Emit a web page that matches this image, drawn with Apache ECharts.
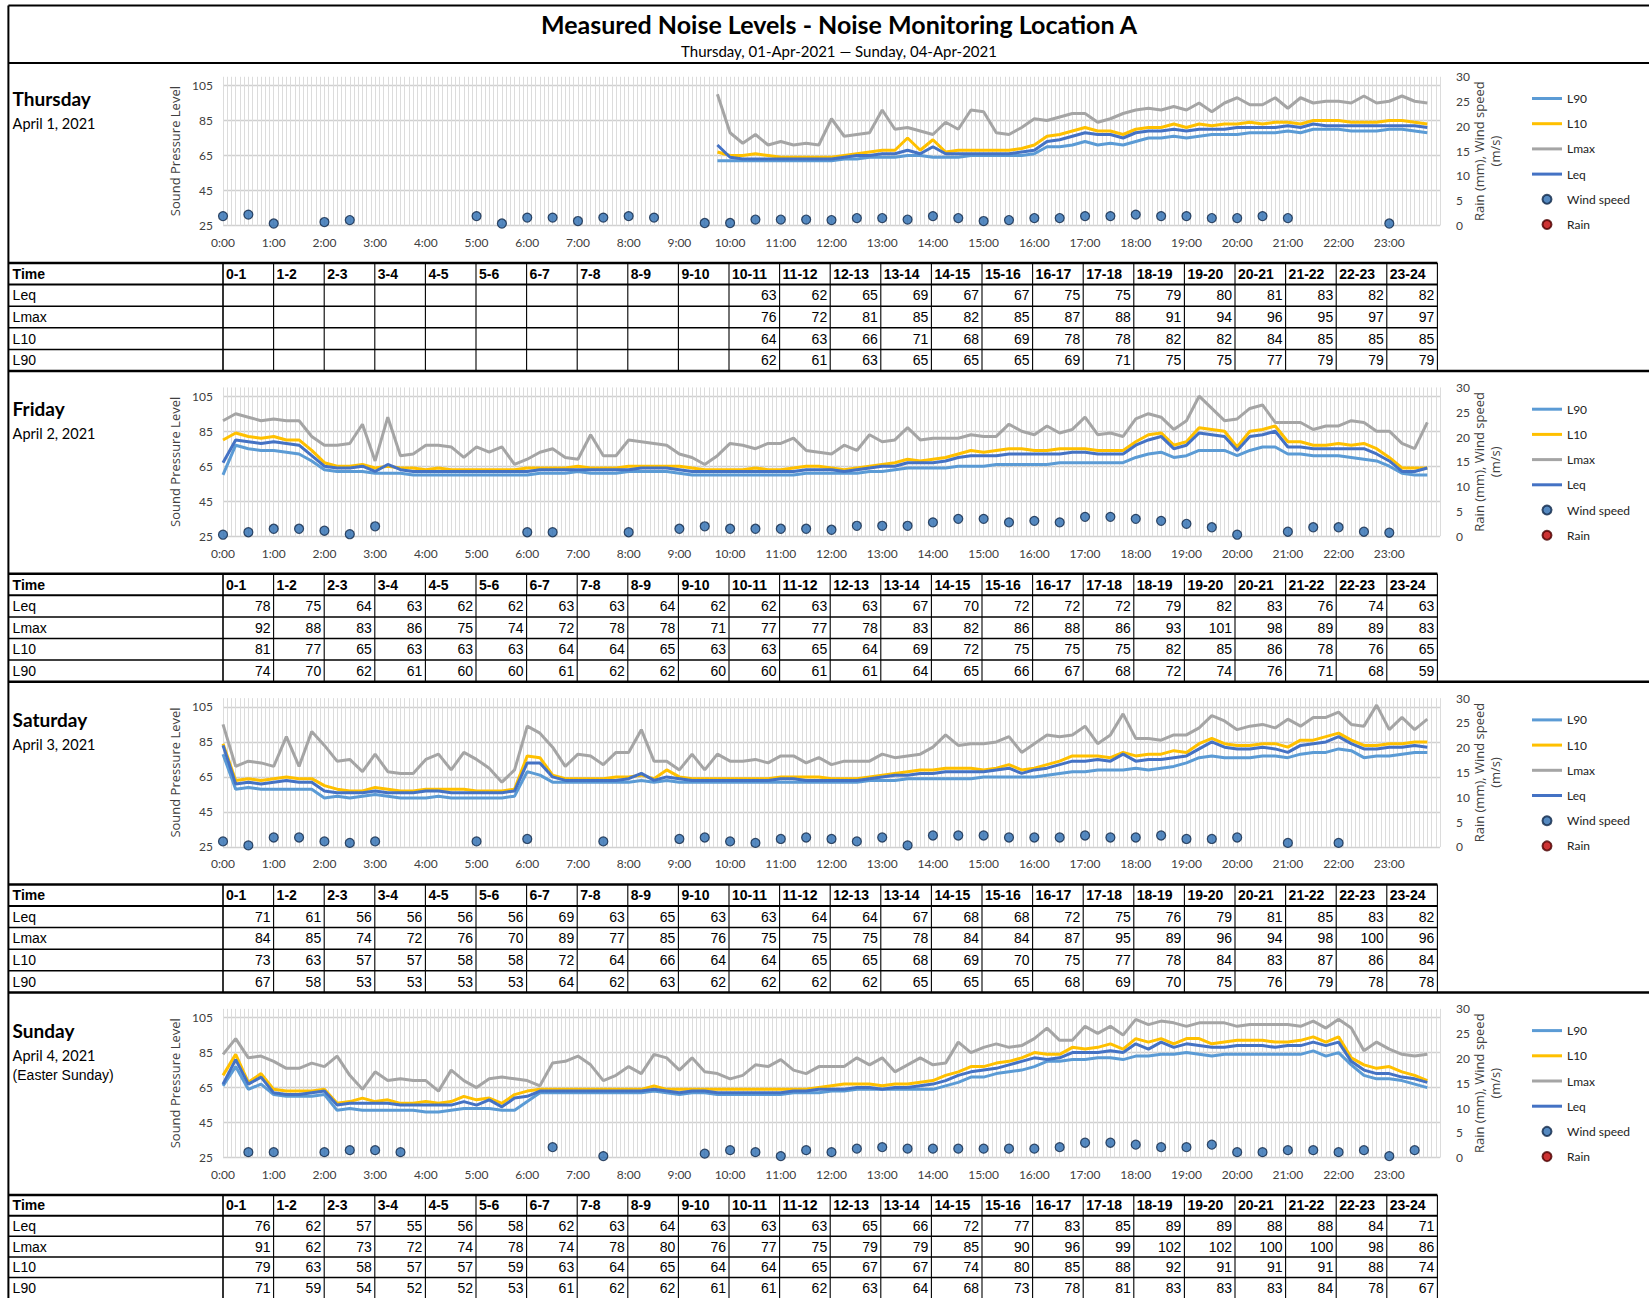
<!DOCTYPE html>
<html><head><meta charset="utf-8">
<script src="https://cdn.jsdelivr.net/npm/echarts@6/dist/echarts.min.js"></script>
<style>html,body{margin:0;padding:0;background:#fff;}#c{width:1649px;height:1298px;}</style>
</head><body><div id="c"></div>
<script>
const N = null;
const dayNames = ['Thursday','Friday','Saturday','Sunday'];
const dayDates = ['April 1, 2021','April 2, 2021','April 3, 2021','April 4, 2021'];
const dayNotes = ['','','','(Easter Sunday)'];
const hourLabels = ['0:00','1:00','2:00','3:00','4:00','5:00','6:00','7:00','8:00','9:00','10:00','11:00','12:00','13:00','14:00','15:00','16:00','17:00','18:00','19:00','20:00','21:00','22:00','23:00'];
const periodLabels = ['0-1','1-2','2-3','3-4','4-5','5-6','6-7','7-8','8-9','9-10','10-11','11-12','12-13','13-14','14-15','15-16','16-17','17-18','18-19','19-20','20-21','21-22','22-23','23-24'];
const splTicks = [25,45,65,85,105];
const legendNames = ['L90','L10','Lmax','Leq','Wind speed','Rain'];
const rowNames = ['Leq','Lmax','L10','L90'];

// 15-minute values, 0:00 .. 23:45
const thuLeq = [N,N,N,N, N,N,N,N, N,N,N,N, N,N,N,N, N,N,N,N, N,N,N,N, N,N,N,N, N,N,N,N, N,N,N,N, N,N,N,71,
 64,63,63,63, 63,63,63,63, 63,64,65,65, 66,66,68,66, 70,66,66,66, 66,66,66,67, 68,73,74,76, 78,77,77,75,
 78,79,79,80, 79,80,80,80, 81,81,81,81, 82,81,83,82, 82,82,82,82, 82,82,82,81];
const thuLmax = [N,N,N,N, N,N,N,N, N,N,N,N, N,N,N,N, N,N,N,N, N,N,N,N, N,N,N,N, N,N,N,N, N,N,N,N, N,N,N,100,
 78,72,77,71, 73,71,72,71, 86,76,77,78, 91,80,81,79, 77,84,80,91, 90,78,77,81, 86,85,87,89, 89,84,86,89,
 91,92,91,93, 91,95,90,95, 98,94,94,98, 92,98,95,96, 96,95,99,95, 96,99,96,95];
const thuL10 = [N,N,N,N, N,N,N,N, N,N,N,N, N,N,N,N, N,N,N,N, N,N,N,N, N,N,N,N, N,N,N,N, N,N,N,N, N,N,N,67,
 65,65,66,65, 64,64,64,64, 64,65,66,67, 68,68,75,68, 74,67,68,68, 68,68,68,69, 71,76,77,79, 81,79,79,77,
 80,81,81,83, 81,83,82,83, 83,84,83,84, 84,83,85,85, 85,84,84,84, 85,85,84,83];
const thuL90 = [N,N,N,N, N,N,N,N, N,N,N,N, N,N,N,N, N,N,N,N, N,N,N,N, N,N,N,N, N,N,N,N, N,N,N,N, N,N,N,62,
 62,62,62,62, 62,62,62,62, 62,63,63,64, 64,64,65,65, 64,64,64,65, 65,65,65,65, 66,70,70,71, 73,71,72,71,
 73,75,75,76, 75,76,77,77, 77,78,78,78, 79,78,80,80, 80,79,79,79, 80,80,79,78];

const friLeq = [67,80,79,78, 79,78,77,71, 65,64,64,65, 62,66,63,62, 62,62,62,62, 62,62,62,62, 62,63,63,63, 63,63,63,63,
 63,64,64,64, 63,62,62,62, 62,62,62,62, 62,62,63,63, 63,62,63,64, 65,65,67,67, 67,68,70,71, 71,71,72,72,
 72,72,72,73, 73,72,72,72, 77,80,82,75, 77,84,83,82, 74,82,83,85, 76,76,75,75, 75,75,75,72, 68,62,62,64];
const friLmax = [91,95,93,91, 92,91,91,82, 77,77,78,89, 68,93,71,72, 77,77,76,70, 76,73,76,66, 69,73,75,70, 69,83,71,71,
 80,79,78,77, 72,70,66,71, 78,77,75,78, 78,81,74,73, 72,77,74,83, 79,80,87,80, 81,81,81,83, 82,82,89,85,
 83,88,84,86, 93,83,84,82, 92,95,93,86, 91,105,98,91, 92,98,100,90, 90,90,86,88, 88,91,90,85, 85,78,75,90];
const friL10 = [80,84,82,81, 82,80,80,74, 67,65,65,66, 64,65,64,64, 63,64,63,63, 63,63,63,63, 64,64,64,64, 65,64,64,64,
 65,65,65,65, 65,64,63,63, 63,63,64,63, 63,64,65,65, 64,63,64,65, 66,67,69,68, 69,70,72,74, 73,74,75,75,
 74,74,75,75, 75,74,74,74, 79,83,84,77, 79,87,86,85, 76,85,86,88, 79,79,77,77, 78,77,78,75, 70,64,64,64];
const friL90 = [60,77,75,74, 74,73,72,68, 63,62,62,62, 61,61,61,60, 60,60,60,60, 60,60,60,60, 60,61,61,61, 62,61,61,61,
 62,62,62,62, 61,60,60,60, 60,60,60,60, 60,60,61,61, 61,61,61,62, 62,63,64,64, 64,64,65,65, 65,66,66,66,
 66,66,67,67, 67,67,67,67, 70,72,73,70, 71,74,74,74, 71,74,76,76, 72,72,71,71, 71,70,69,68, 65,61,60,60];

const satLeq = [83,61,62,61, 62,63,62,62, 57,56,56,56, 57,56,56,56, 57,57,56,56, 56,56,56,57, 73,73,65,63, 63,63,63,63,
 64,67,63,65, 64,63,63,63, 63,63,63,63, 64,64,63,63, 63,63,63,64, 65,66,66,67, 67,68,68,68, 68,69,70,67,
 69,70,72,74, 74,75,74,78, 74,75,75,76, 77,81,85,82, 81,81,82,81, 79,83,84,85, 88,84,81,81, 82,82,83,82];
const satLmax = [95,71,74,73, 71,88,71,91, 83,74,75,68, 78,68,67,67, 75,78,69,79, 75,70,62,69, 94,90,82,71, 78,77,72,79,
 79,92,74,74, 69,78,69,78, 74,74,75,73, 77,77,73,76, 72,74,74,74, 78,76,77,78, 82,89,83,84, 84,85,88,79,
 84,89,88,89, 94,84,89,101, 87,87,86,89, 89,93,100,97, 92,94,95,93, 98,94,99,99, 102,95,94,106, 92,99,92,98];
const satL10 = [84,63,64,63, 64,65,64,64, 60,58,57,57, 59,58,57,57, 58,58,58,58, 57,57,57,58, 77,76,66,64, 64,64,64,65,
 65,66,64,69, 65,64,64,64, 64,64,64,64, 65,65,65,65, 64,64,64,65, 66,67,68,69, 69,70,70,70, 69,70,72,69,
 70,72,74,77, 77,77,76,79, 77,78,78,80, 79,84,87,84, 83,83,84,84, 82,86,86,88, 90,86,83,83, 84,84,85,85];
const satL90 = [78,58,59,58, 58,58,58,58, 53,54,53,54, 55,54,53,53, 53,54,53,53, 53,53,53,54, 68,66,62,62, 62,62,62,62,
 62,63,62,63, 62,62,62,62, 62,62,62,62, 62,62,62,62, 62,62,62,63, 63,63,64,64, 64,64,64,64, 65,65,65,65,
 65,66,67,68, 68,69,69,69, 70,69,70,71, 73,76,77,76, 76,76,77,77, 76,78,79,79, 81,80,76,77, 77,78,79,79];

const sunLeq = [67,81,67,71, 62,61,61,62, 63,55,56,56, 56,56,55,55, 55,55,55,57, 55,58,54,59, 60,63,63,63, 63,63,63,63,
 63,63,64,63, 62,63,63,62, 62,62,62,62, 62,63,63,64, 64,64,65,65, 64,65,65,66, 67,69,72,74, 75,76,78,80,
 82,81,82,85, 85,85,86,85, 90,87,91,88, 90,89,88,88, 89,89,89,88, 89,89,91,89, 91,80,75,73, 73,71,70,68];
const sunLmax = [84,93,82,83, 80,76,76,79, 77,83,72,64, 74,69,70,69, 69,63,75,69, 65,70,71,70, 69,66,79,80, 83,78,69,72,
 77,73,84,82, 75,82,74,73, 70,72,78,77, 81,75,73,77, 77,77,82,78, 82,74,78,82, 78,79,91,85, 88,90,88,89,
 93,99,92,92, 100,96,100,95, 104,101,103,102, 100,102,102,102, 100,101,101,101, 101,100,103,99, 104,99,86,91, 87,84,83,84];
const sunL10 = [72,84,68,73, 64,63,63,63, 64,56,57,59, 57,58,56,56, 57,56,57,60, 58,59,56,61, 63,64,64,64, 64,64,64,64,
 64,64,66,64, 64,64,64,64, 64,64,64,64, 64,64,64,65, 66,67,67,67, 66,67,67,68, 69,72,74,77, 77,79,80,82,
 85,84,84,88, 87,88,90,87, 93,91,93,90, 93,93,90,91, 92,92,92,91, 91,92,94,91, 94,82,78,76, 77,74,72,69];
const sunL90 = [66,77,64,67, 61,60,60,60, 61,52,53,52, 52,52,52,52, 51,51,52,53, 53,53,52,52, 57,62,62,62, 62,62,62,62,
 62,62,63,62, 61,62,62,61, 61,61,61,61, 61,62,62,62, 63,63,64,64, 64,64,64,64, 64,66,68,71, 71,73,74,75,
 77,80,80,81, 81,82,82,81, 83,83,84,84, 85,84,83,84, 84,84,84,84, 84,84,86,83, 85,78,72,70, 70,69,67,65];

// 30-minute wind speed (m/s), 0:00 .. 23:30
const thuWind = [1.9,2.2,0.4,N,0.7,1.1,N,N,N,N,1.9,0.4,1.6,1.6,0.9,1.6,1.9,1.6,N,0.5,0.5,1.2,1.2,1.2,
 1.1,1.5,1.5,1.2,1.9,1.5,0.9,1.1,1.5,1.5,1.9,1.9,2.2,1.9,1.9,1.5,1.5,1.9,1.5,N,N,N,0.4,N];
const friWind = [0.3,0.8,1.5,1.5,1.1,0.4,2.0,N,N,N,N,N,0.8,0.8,N,N,0.8,N,1.5,2.0,1.5,1.5,1.5,1.5,
 1.3,2.1,2.1,2.1,2.8,3.5,3.5,2.8,3.1,2.8,3.9,3.9,3.5,3.1,2.5,1.8,0.3,N,0.9,1.8,1.8,0.9,0.7,N];
const satWind = [1.1,0.3,1.9,1.9,1.1,0.8,1.1,N,N,N,1.1,N,1.6,N,N,1.1,N,N,1.6,1.9,1.1,0.8,1.6,1.9,
 1.6,1.1,1.9,0.3,2.3,2.3,2.3,1.9,1.9,1.9,2.3,1.9,1.9,2.3,1.6,1.6,1.9,N,0.8,N,0.8,N,N,N];
const sunWind = [N,1.1,1.1,N,1.1,1.5,1.5,1.1,N,N,N,N,N,2.1,N,0.3,N,N,N,0.8,1.5,1.1,0.3,1.5,
 1.1,1.8,2.1,1.8,1.8,1.8,1.8,1.8,1.8,2.1,3.0,3.0,2.6,2.1,2.1,2.6,1.1,1.1,1.5,1.5,1.1,1.5,0.3,1.5];
// no rain recorded
const thuRain = [], friRain = [], satRain = [], sunRain = [];

// hourly table values
const tblThuLeq  = [N,N,N,N,N,N,N,N,N,N,63,62,65,69,67,67,75,75,79,80,81,83,82,82];
const tblThuLmax = [N,N,N,N,N,N,N,N,N,N,76,72,81,85,82,85,87,88,91,94,96,95,97,97];
const tblThuL10  = [N,N,N,N,N,N,N,N,N,N,64,63,66,71,68,69,78,78,82,82,84,85,85,85];
const tblThuL90  = [N,N,N,N,N,N,N,N,N,N,62,61,63,65,65,65,69,71,75,75,77,79,79,79];
const tblFriLeq  = [78,75,64,63,62,62,63,63,64,62,62,63,63,67,70,72,72,72,79,82,83,76,74,63];
const tblFriLmax = [92,88,83,86,75,74,72,78,78,71,77,77,78,83,82,86,88,86,93,101,98,89,89,83];
const tblFriL10  = [81,77,65,63,63,63,64,64,65,63,63,65,64,69,72,75,75,75,82,85,86,78,76,65];
const tblFriL90  = [74,70,62,61,60,60,61,62,62,60,60,61,61,64,65,66,67,68,72,74,76,71,68,59];
const tblSatLeq  = [71,61,56,56,56,56,69,63,65,63,63,64,64,67,68,68,72,75,76,79,81,85,83,82];
const tblSatLmax = [84,85,74,72,76,70,89,77,85,76,75,75,75,78,84,84,87,95,89,96,94,98,100,96];
const tblSatL10  = [73,63,57,57,58,58,72,64,66,64,64,65,65,68,69,70,75,77,78,84,83,87,86,84];
const tblSatL90  = [67,58,53,53,53,53,64,62,63,62,62,62,62,65,65,65,68,69,70,75,76,79,78,78];
const tblSunLeq  = [76,62,57,55,56,58,62,63,64,63,63,63,65,66,72,77,83,85,89,89,88,88,84,71];
const tblSunLmax = [91,62,73,72,74,78,74,78,80,76,77,75,79,79,85,90,96,99,102,102,100,100,98,86];
const tblSunL10  = [79,63,58,57,57,59,63,64,65,64,64,65,67,67,74,80,85,88,92,91,91,91,88,74];
const tblSunL90  = [71,59,54,52,52,53,61,62,62,61,61,62,63,64,68,73,78,81,83,83,83,84,78,67];

const L90s = [thuL90, friL90, satL90, sunL90];
const L10s = [thuL10, friL10, satL10, sunL10];
const LMAXs = [thuLmax, friLmax, satLmax, sunLmax];
const LEQs = [thuLeq, friLeq, satLeq, sunLeq];
const WINDs = [thuWind, friWind, satWind, sunWind];
const RAINs = [thuRain, friRain, satRain, sunRain];
const TABLES = [
  [tblThuLeq, tblThuLmax, tblThuL10, tblThuL90],
  [tblFriLeq, tblFriLmax, tblFriL10, tblFriL90],
  [tblSatLeq, tblSatLmax, tblSatL10, tblSatL90],
  [tblSunLeq, tblSunLmax, tblSunL10, tblSunL90]
];

// ---------- layout ----------
const P = 310.7;            // panel pitch
const GL = 223, GW = 1217;  // grid left / width
const GT = 76.75, GH = 148.75;
const TT = 263, TX0 = 8.4, CW = 50.6;
const ROWH = [21.6, 21.6, 21.6, 20.6];
const COL = {L90:'#5B9BD5', L10:'#FFC000', Lmax:'#A5A5A5', Leq:'#4472C4'};
const LBL = '#404040';
const NARROW = "'Liberation Sans Narrow', 'Liberation Sans', sans-serif";
const LINE_ICON = 'path://M0,0 H10 V1 H0 Z';

const grids = [], xAxes = [], yAxes = [], series = [], legends = [], G = [];

function hline(x1, x2, y, w) { G.push({type:'line', silent:true, shape:{x1:x1, y1:y, x2:x2, y2:y}, style:{stroke:'#000', lineWidth:w}}); }
function vline(x, y1, y2, w) { G.push({type:'line', silent:true, shape:{x1:x, y1:y1, x2:x, y2:y2}, style:{stroke:'#000', lineWidth:w}}); }
function txt(x, y, s, size, fam, weight, align) {
  G.push({type:'text', silent:true, x:x, y:y, style:{text:s, fill:'#000', fontSize:size, fontFamily:fam, fontWeight:weight||'normal',
    textAlign:align||'left', textVerticalAlign:'middle', align:align||'left', verticalAlign:'middle'}});
}

for (let k = 0; k < 4; k++) {
  const dy = k * P;
  grids.push({left: GL, top: GT + dy, width: GW, height: GH});
  xAxes.push({type:'value', gridIndex:k, min:0, max:1440, interval:5,
    axisLabel:{formatter: v => (v % 60 === 0 && v < 1440) ? hourLabels[v/60] : '', margin:11, fontSize:12, color:LBL, fontFamily:'Lato'},
    axisTick:{show:false}, axisLine:{show:false},
    splitLine:{show:true, lineStyle:{color:'#DCDCDC', width:1}}});
  yAxes.push({type:'value', gridIndex:k, min:25, max:110, interval:5, position:'left',
    axisLabel:{customValues:splTicks, fontSize:12, color:LBL, margin:10, fontFamily:'Lato'},
    axisTick:{show:false, customValues:splTicks}, axisLine:{show:false},
    splitLine:{show:true, lineStyle:{color:'#D0D0D0', width:1.3}},
    name:'Sound Pressure Level', nameLocation:'middle', nameRotate:90, nameGap:38,
    nameTextStyle:{fontFamily:'Open Sans', fontSize:13, color:LBL}});
  yAxes.push({type:'value', gridIndex:k, min:0, max:30, interval:5, position:'right',
    axisLabel:{fontSize:12, color:LBL, margin:16, fontFamily:'Lato'},
    axisTick:{show:false}, axisLine:{show:false}, splitLine:{show:false},
    name:'Rain (mm), Wind speed\n(m/s)', nameLocation:'middle', nameRotate:90, nameGap:31, nameMoveOverlap:false,
    nameTextStyle:{fontFamily:'Open Sans', fontSize:13, color:LBL, lineHeight:16}});

  const mk = (name, arr) => ({type:'line', name:name, xAxisIndex:k, yAxisIndex:2*k,
    data: arr.map((v, i) => [i * 15, v]), symbol:'none', showSymbol:false,
    lineStyle:{width:3, color:COL[name]}, itemStyle:{color:COL[name]}});
  series.push(mk('L90', L90s[k]), mk('L10', L10s[k]), mk('Lmax', LMAXs[k]), mk('Leq', LEQs[k]));
  series.push({type:'scatter', name:'Wind speed', xAxisIndex:k, yAxisIndex:2*k+1,
    data: WINDs[k].map((v, i) => [i * 30, v]).filter(p => p[1] !== null), symbolSize:9,
    itemStyle:{color:'#2A6BB0', borderColor:'#102848', borderWidth:1.2}});
  series.push({type:'scatter', name:'Rain', xAxisIndex:k, yAxisIndex:2*k+1,
    data: RAINs[k].map((v, i) => [i * 30, v]), symbolSize:9,
    itemStyle:{color:'#C00000', borderColor:'#4A0000', borderWidth:1.2}});

  legends.push({orient:'vertical', left:1532, top:92.5 + dy, itemWidth:30, itemHeight:9, itemGap:13.2, padding:0,
    selectedMode:false,
    data: legendNames.map(n => COL[n] ? {name:n, icon:LINE_ICON} : {name:n}),
    textStyle:{fontSize:12, fontFamily:'Lato', color:'#222'}});

  // day labels
  txt(12.6, 98 + dy, dayNames[k], 19, 'Lato', 'bold');
  txt(12.6, 123 + dy, dayDates[k], 14.5, 'Lato');
  if (dayNotes[k]) txt(12.6, 142.5 + dy, dayNotes[k], 14, NARROW);

  // table
  const RH = ROWH[k];
  const top = TT + dy, right = GL + 24 * CW;
  hline(TX0, right, top, 2.5);
  hline(TX0, right, top + RH, 2);
  for (let r = 2; r <= 4; r++) hline(TX0, right, top + r * RH, 1.5);
  for (let i = 0; i <= 24; i++) vline(GL + i * CW, top, top + 5 * RH, i === 0 ? 1.6 : 1.1);
  txt(12.6, top + RH / 2, 'Time', 14, NARROW, 'bold');
  for (let i = 0; i < 24; i++) txt(GL + i * CW + 3, top + RH / 2, periodLabels[i], 14, NARROW, 'bold');
  for (let r = 0; r < 4; r++) {
    const yc = top + (r + 1.5) * RH;
    txt(12.6, yc, rowNames[r], 14, NARROW);
    const row = TABLES[k][r];
    for (let i = 0; i < 24; i++) if (row[i] !== null) txt(GL + (i + 1) * CW - 3, yc, String(row[i]), 14, NARROW, 'normal', 'right');
  }
  if (k < 3) hline(TX0, 1649, top + 5 * RH, 2.5);
}
// frame
hline(TX0, 1649, 5.5, 2);
vline(TX0, 5.5, 1298, 2);
hline(TX0, 1649, 63, 2);

const chart = echarts.init(document.getElementById('c'), null, {renderer:'svg', width:1649, height:1298});
chart.setOption({
  animation:false,
  backgroundColor:'#ffffff',
  textStyle:{fontFamily:'Lato'},
  title:[
    {text:'Measured Noise Levels - Noise Monitoring Location A', left:839, top:11, textAlign:'center', padding:0,
     textStyle:{fontFamily:'Lato', fontWeight:'bold', fontSize:25, color:'#000'}},
    {text:'Thursday, 01-Apr-2021 \u2014 Sunday, 04-Apr-2021', left:839, top:43, textAlign:'center', padding:0,
     textStyle:{fontFamily:'Lato', fontWeight:'normal', fontSize:15, color:'#000'}}
  ],
  grid:grids, xAxis:xAxes, yAxis:yAxes, series:series, legend:legends,
  graphic:G
});
</script>
</body></html>
